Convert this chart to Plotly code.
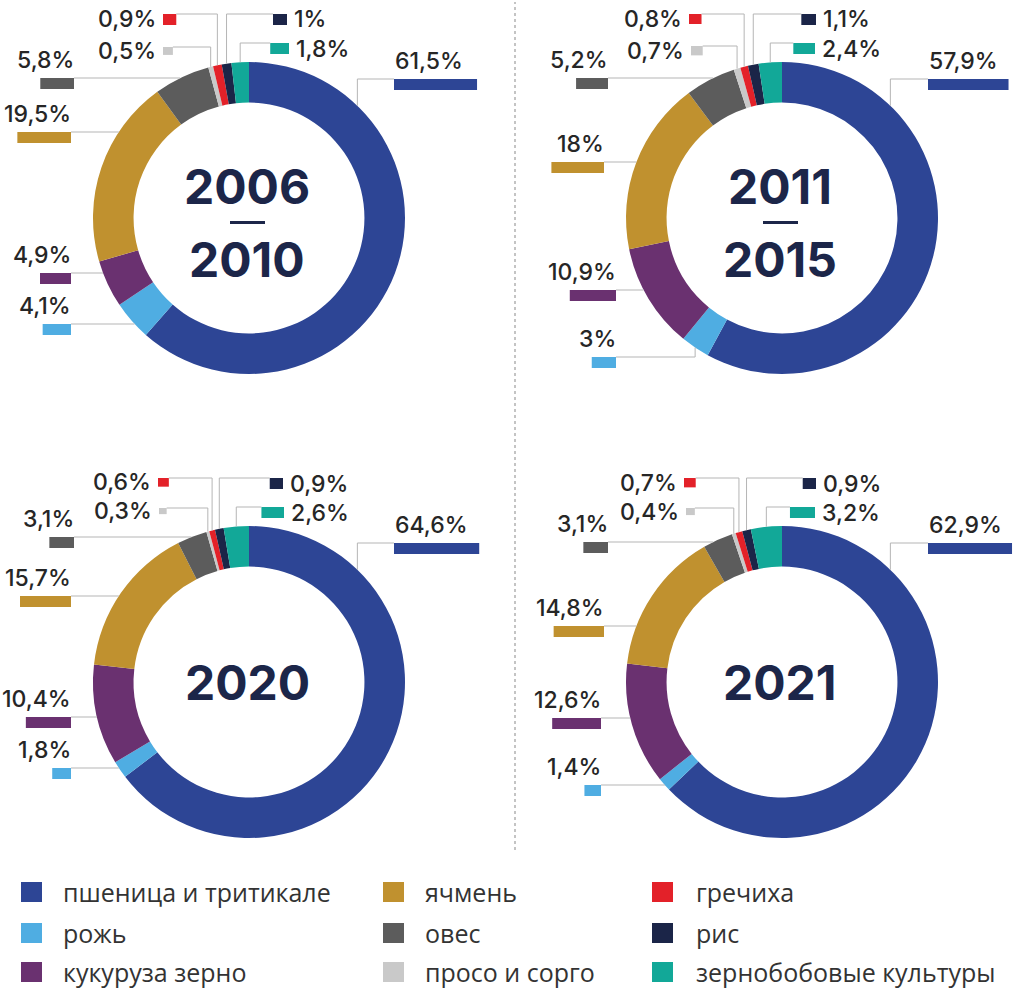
import math
import plotly.graph_objects as go

W, H = 1024, 990

# --- data -------------------------------------------------------------
crops = ["пшеница и тритикале", "рожь", "кукуруза зерно", "ячмень", "овес",
         "просо и сорго", "гречиха", "рис", "зернобобовые культуры"]
colors = ["#2d4595", "#4fade2", "#6a3170", "#c0912f", "#5c5c5c",
          "#c9c9c9", "#e32129", "#1b2548", "#12a898"]

share_2006_2010 = [61.5, 4.1, 4.9, 19.5, 5.8, 0.5, 0.9, 1.0, 1.8]
share_2011_2015 = [57.9, 3.0, 10.9, 18.0, 5.2, 0.7, 0.8, 1.1, 2.4]
share_2020 = [64.6, 1.8, 10.4, 15.7, 3.1, 0.3, 0.6, 0.9, 2.6]
share_2021 = [62.9, 1.4, 12.6, 14.8, 3.1, 0.4, 0.7, 0.9, 3.2]

periods = [("2006", "2010"), ("2011", "2015"), ("2020",), ("2021",)]
shares = [share_2006_2010, share_2011_2015, share_2020, share_2021]

# --- layout of the four donuts (pixels) ---------------------------------
centers = [(249, 218), (782, 218), (249, 682), (782, 682)]
R = 156
HOLE = 0.74
NAVY = "#1c2649"
TXT = "#262626"
LEADER = "#b5b5b5"
NUM_FONT = "Inter"

# label placement per donut: crop index -> (kind, dx, dy_top)
# R: bar right of donut, L: bar left, TL/TR: small square above
label_pos = [
    {0: ("R", 145, -139), 1: ("L", -178, 106), 2: ("L", -178, 55), 3: ("L", -178, -86),
     4: ("L", -175, -140), 5: ("TL", -86, -171), 6: ("TL", -86, -204),
     7: ("TR", 38, -204), 8: ("TR", 40, -175)},
    {0: ("R", 146, -139), 1: ("L", -166, 139), 2: ("L", -166, 72), 3: ("L", -178, -56),
     4: ("L", -174, -140), 5: ("TL", -91, -172), 6: ("TL", -93, -204),
     7: ("TR", 34, -204), 8: ("TR", 33, -175)},
    {0: ("R", 145, -139), 1: ("L", -178, 86), 2: ("L", -178, 35), 3: ("L", -178, -86),
     4: ("L", -175, -145), 5: ("TL", -90, -174), 6: ("TL", -91, -204),
     7: ("TR", 34, -204), 8: ("TR", 35, -175)},
    {0: ("R", 146, -139), 1: ("L", -181, 103), 2: ("L", -181, 36), 3: ("L", -178, -56),
     4: ("L", -174, -140), 5: ("TL", -96, -174), 6: ("TL", -98, -204),
     7: ("TR", 34, -204), 8: ("TR", 33, -175)},
]
anchor_override = {0: 44}  # wheat leader meets the ring at this angle


def px(x):
    return x / W


def py(y):
    return 1 - y / H


def fmt(v):
    return f"{v:g}".replace(".", ",") + "%"


def ring_point(cx, cy, ang):
    a = math.radians(ang)
    return cx + R * math.sin(a), cy - R * math.cos(a)


fig = go.Figure()
shapes = []
annotations = []


def add_line(pts):
    path = "M " + " L ".join(f"{px(x)},{py(y)}" for x, y in pts)
    shapes.append(dict(type="path", xref="paper", yref="paper", path=path,
                       line=dict(color=LEADER, width=1)))


def add_rect(x0, y0, x1, y1, color):
    shapes.append(dict(type="rect", xref="paper", yref="paper",
                       x0=px(x0), x1=px(x1), y0=py(y1), y1=py(y0),
                       fillcolor=color, line=dict(width=0), layer="above"))


def add_text(x, y, text, xanchor, yanchor, size, color=TXT, family=NUM_FONT, weight=500):
    annotations.append(dict(x=px(x), y=py(y), xref="paper", yref="paper",
                            text=text, showarrow=False, xanchor=xanchor,
                            yanchor=yanchor, borderpad=0,
                            font=dict(family=family, size=size, color=color, weight=weight)))


for k, (vals, (cx, cy)) in enumerate(zip(shares, centers)):
    fig.add_trace(go.Pie(
        labels=crops, values=vals, hole=HOLE, sort=False, direction="clockwise",
        rotation=0, textinfo="none", hoverinfo="label+percent", showlegend=False,
        marker=dict(colors=colors, line=dict(width=0)),
        domain=dict(x=[px(cx - R), px(cx + R)], y=[py(cy + R), py(cy - R)]),
    ))

    total = sum(vals)
    starts = []
    acc = 0
    for v in vals:
        starts.append(acc / total * 360)
        acc += v

    for i, v in enumerate(vals):
        kind, dx, dy = label_pos[k][i]
        a0 = starts[i]
        a1 = a0 + v / total * 360
        mid = (a0 + a1) / 2
        w = min(14 * math.sqrt(v), 40 + 0.7 * v)
        h = 11 if w >= 13 else w * 0.8
        top = cy + dy

        if kind == "R":
            x0 = cx + dx
            add_rect(x0, top, x0 + w, top + h, colors[i])
            ang = anchor_override.get(i, mid)
            ax, ay = ring_point(cx, cy, ang)
            add_line([(x0, top), (ax, top), (ax, ay)])
            add_text(x0, top - 3, fmt(v), "left", "bottom", 23)
        elif kind == "L":
            x1 = cx + dx
            add_rect(x1 - w, top, x1, top + h, colors[i])
            ddy = top - cy
            flat_ang = None
            if abs(ddy) < R:
                fx = -math.sqrt(R * R - ddy * ddy)
                flat_ang = math.degrees(math.atan2(fx, -ddy)) % 360
            if flat_ang is not None and a0 + 1 <= flat_ang <= a1 - 1:
                add_line([(x1, top), (cx + fx, top)])
            else:
                ax, ay = ring_point(cx, cy, mid)
                add_line([(x1, top), (ax, top), (ax, ay)])
            add_text(x1 + 1, top - 3, fmt(v), "right", "bottom", 23)
        elif kind == "TL":
            x0 = cx + dx
            add_rect(x0, top, x0 + w, top + h, colors[i])
            ax, ay = ring_point(cx, cy, mid)
            add_line([(x0 + w, top), (ax, top), (ax, ay)])
            add_text(x0 - 6, top + h / 2, fmt(v), "right", "middle", 23)
        else:  # TR
            x1 = cx + dx
            add_rect(x1 - w, top, x1, top + h, colors[i])
            ax, ay = ring_point(cx, cy, mid)
            add_line([(x1 - w, top), (ax, top), (ax, ay)])
            add_text(x1 + 6, top + h / 2, fmt(v), "left", "middle", 23)

    # period in the middle of the donut
    title = periods[k]
    if len(title) == 2:
        add_text(cx - 2, cy - 32, f"<b>{title[0]}</b>", "center", "middle", 48, NAVY, weight=800)
        add_rect(cx - 19, cy + 3, cx + 16, cy + 6, NAVY)
        add_text(cx - 2, cy + 41, f"<b>{title[1]}</b>", "center", "middle", 48, NAVY, weight=800)
    else:
        add_text(cx - 2, cy, f"<b>{title[0]}</b>", "center", "middle", 48, NAVY, weight=800)

# dotted divider between the columns
shapes.append(dict(type="line", xref="paper", yref="paper",
                   x0=px(515), x1=px(515), y0=py(850), y1=py(2),
                   line=dict(color="#c4c4c4", width=2, dash="dot")))

# legend, filled column by column
leg_sq_x = [21, 383, 652]
leg_txt_x = [62, 424, 695]
leg_row_y = [892, 933, 972]
for i, name in enumerate(crops):
    col, row = divmod(i, 3)
    yc = leg_row_y[row]
    add_rect(leg_sq_x[col], yc - 10, leg_sq_x[col] + 21, yc + 10, colors[i])
    add_text(leg_txt_x[col], yc, name, "left", "middle", 25, "#333333", "Open Sans", 400)

fig.update_layout(
    width=W, height=H,
    margin=dict(l=0, r=0, t=0, b=0),
    paper_bgcolor="white", plot_bgcolor="white",
    shapes=shapes, annotations=annotations,
    showlegend=False,
)

# page body margin would push the 1024x990 figure out of the window
fig.write_html("out.html", config={"displayModeBar": False},
               post_script="document.body.style.margin='0px';")
